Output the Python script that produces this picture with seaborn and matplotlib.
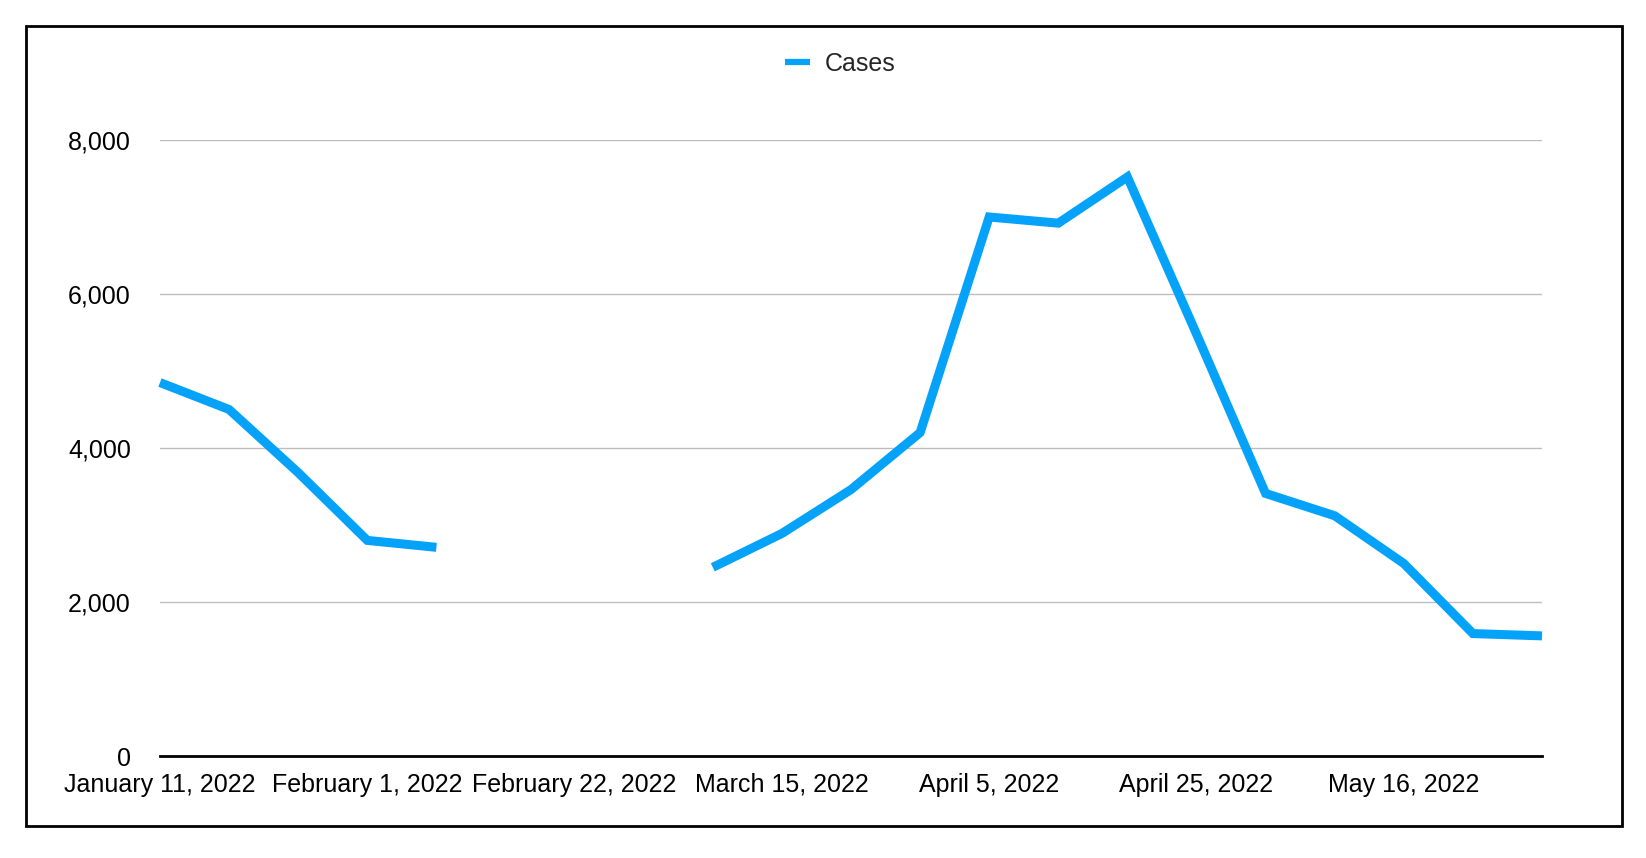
import numpy as np
import pandas as pd
import matplotlib
matplotlib.use("Agg")
import matplotlib.pyplot as plt
import seaborn as sns
from matplotlib.patches import Rectangle
from matplotlib.lines import Line2D

dates = ["January 11, 2022", "January 18, 2022", "January 25, 2022", "February 1, 2022",
         "February 8, 2022", "February 15, 2022", "February 22, 2022", "March 1, 2022",
         "March 8, 2022", "March 15, 2022", "March 22, 2022", "March 29, 2022",
         "April 5, 2022", "April 12, 2022", "April 19, 2022", "April 25, 2022",
         "May 2, 2022", "May 9, 2022", "May 16, 2022", "May 23, 2022", "May 30, 2022"]
cases = [4850, 4500, 3680, 2800, 2710, np.nan, np.nan, np.nan,
         2450, 2890, 3460, 4200, 7000, 6920, 7520, 5480,
         3410, 3120, 2500, 1590, 1560]
yticks = [0, 2000, 4000, 6000, 8000]

sns.set_theme(style="white")
plt.rcParams['font.family'] = ['Liberation Sans', 'DejaVu Sans']

df = pd.DataFrame({"idx": np.arange(len(dates)), "date": dates, "cases": cases})
# segment id so gaps stay gaps
df["segment"] = df["cases"].isna().cumsum()
df = df.dropna(subset=["cases"])

fig = plt.figure(figsize=(16.46, 8.58), dpi=100)
ax = fig.add_axes([160/1646, 1-756/858, (1542-160)/1646, (756-140)/858])

color = "#04A3F9"
sns.lineplot(data=df, x="idx", y="cases", units="segment", estimator=None,
             color=color, linewidth=6.5, ax=ax, legend=False)
for ln in ax.lines:
    ln.set_solid_capstyle("butt")
    ln.set_solid_joinstyle("miter")
    ln.set_clip_on(False)

ax.set_xlim(0, len(dates) - 1)
ax.set_ylim(0, 8000)
ax.set_yticks(yticks)
ax.set_yticklabels([f"{v:,}" for v in yticks], fontsize=18)
xt = list(range(0, len(dates), 3))
ax.set_xticks(xt)
ax.set_xticklabels([dates[i] for i in xt], fontsize=18)
ax.tick_params(axis="both", length=0, colors="black")
ax.tick_params(axis="y", pad=21)
ax.tick_params(axis="x", pad=12)
ax.set_xlabel("")
ax.set_ylabel("")
ax.grid(axis="y", color="#BDBDBD", linewidth=1)
ax.grid(axis="x", visible=False)
for s in ["top", "right", "left"]:
    ax.spines[s].set_visible(False)
ax.spines["bottom"].set_color("black")
ax.spines["bottom"].set_linewidth(2)
ax.spines["bottom"].set_zorder(5)

handle = Line2D([0], [0], color=color, linewidth=4.5, solid_capstyle="butt")
fig.legend([handle], ["Cases"], loc="center", bbox_to_anchor=(840/1646, 1-64/858),
           frameon=False, fontsize=18, handlelength=1.0, handletextpad=0.6)

fig.patches.append(Rectangle((26/1646, 1-826/858), (1622-26)/1646, (826-26)/858,
                             transform=fig.transFigure, fill=False,
                             edgecolor="black", linewidth=2))

fig.savefig("out.png", dpi=100, facecolor="white")
